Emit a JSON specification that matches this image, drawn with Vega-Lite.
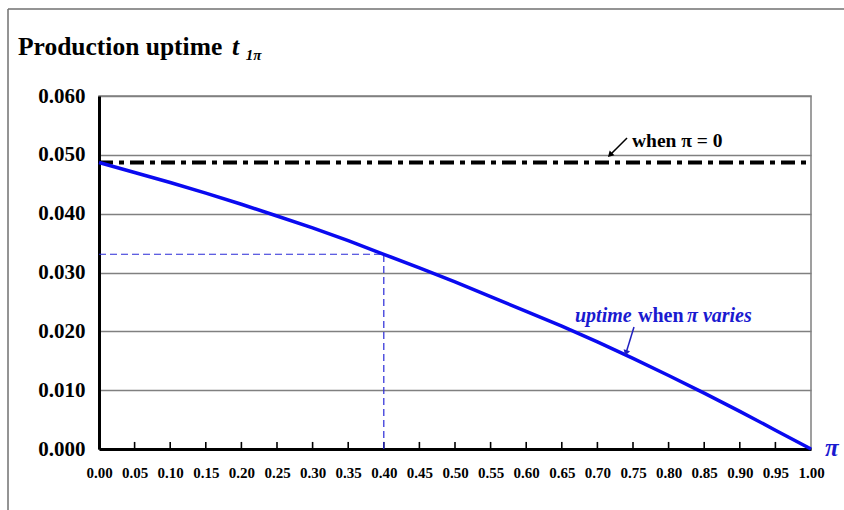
{
  "$schema": "https://vega.github.io/schema/vega-lite/v6.json",
  "width": 712,
  "height": 353,
  "autosize": "none",
  "padding": {"left": 99, "top": 96, "right": 33, "bottom": 61},
  "background": "white",
  "config": {
    "font": "'Liberation Serif', 'Times New Roman', Times, serif",
    "view": {"stroke": "#808080", "strokeWidth": 1.5},
    "axis": {"labelFont": "'Liberation Serif', 'Times New Roman', Times, serif", "labelFontWeight": "bold", "labelColor": "black", "title": null},
    "text": {"font": "'Liberation Serif', 'Times New Roman', Times, serif"}
  },
  "datasets": {
    "curve": [
      {"x": 0.00, "y": 0.0487}, {"x": 0.05, "y": 0.0470}, {"x": 0.10, "y": 0.0453},
      {"x": 0.15, "y": 0.0435}, {"x": 0.20, "y": 0.0416}, {"x": 0.25, "y": 0.0396},
      {"x": 0.30, "y": 0.0376}, {"x": 0.35, "y": 0.0354}, {"x": 0.40, "y": 0.0331},
      {"x": 0.45, "y": 0.0308}, {"x": 0.50, "y": 0.0284}, {"x": 0.55, "y": 0.0259},
      {"x": 0.60, "y": 0.0234}, {"x": 0.65, "y": 0.0209}, {"x": 0.70, "y": 0.0182},
      {"x": 0.75, "y": 0.0154}, {"x": 0.80, "y": 0.0125}, {"x": 0.85, "y": 0.0095},
      {"x": 0.90, "y": 0.0064}, {"x": 0.95, "y": 0.0032}, {"x": 1.00, "y": 0.0000}
    ],
    "ticks": [
      {"x": 0.05, "y": 0, "y2": 0.0012}, {"x": 0.10, "y": 0, "y2": 0.0012}, {"x": 0.15, "y": 0, "y2": 0.0012},
      {"x": 0.20, "y": 0, "y2": 0.0012}, {"x": 0.25, "y": 0, "y2": 0.0012}, {"x": 0.30, "y": 0, "y2": 0.0012},
      {"x": 0.35, "y": 0, "y2": 0.0012}, {"x": 0.40, "y": 0, "y2": 0.0012}, {"x": 0.45, "y": 0, "y2": 0.0012},
      {"x": 0.50, "y": 0, "y2": 0.0012}, {"x": 0.55, "y": 0, "y2": 0.0012}, {"x": 0.60, "y": 0, "y2": 0.0012},
      {"x": 0.65, "y": 0, "y2": 0.0012}, {"x": 0.70, "y": 0, "y2": 0.0012}, {"x": 0.75, "y": 0, "y2": 0.0012},
      {"x": 0.80, "y": 0, "y2": 0.0012}, {"x": 0.85, "y": 0, "y2": 0.0012}, {"x": 0.90, "y": 0, "y2": 0.0012},
      {"x": 0.95, "y": 0, "y2": 0.0012}
    ],
    "flat": [{"x": 0, "x2": 1, "y": 0.0487}],
    "refs": [
      {"x": 0, "x2": 0.4, "y": 0.0331, "y2": 0.0331},
      {"x": 0.4, "x2": 0.4, "y": 0, "y2": 0.0331}
    ],
    "arrowShafts": [
      {"x": 0.7416, "y": 0.05286, "x2": 0.7177, "y2": 0.04997, "group": "black"},
      {"x": 0.7514, "y": 0.02074, "x2": 0.7402, "y2": 0.01632, "group": "blue"}
    ],
    "arrowHeads": [
      {"x": 0.7177, "y": 0.04997, "angle": 225, "group": "black"},
      {"x": 0.7402, "y": 0.01632, "angle": 197, "group": "blue"}
    ],
    "frame": [
      {"x": -0.1278, "x2": 1.05, "y": 0.0748, "y2": 0.0748},
      {"x": -0.1278, "x2": -0.1278, "y": 0.0748, "y2": -0.0110}
    ],
    "titleMain": [{"x": -0.1138, "y": 0.06697, "text": "Production uptime"}],
    "titleT": [{"x": 0.1868, "y": 0.06697, "text": "t"}],
    "titleSub": [{"x": 0.2060, "y": 0.0662, "text": "1π"}],
    "blackNote": [{"x": 0.7486, "y": 0.05139, "text": "when π = 0"}],
    "blueItalic": [{"x": 0.6685, "y": 0.02164, "text": "uptime"}, {"x": 0.8258, "y": 0.02164, "text": "π varies"}],
    "blueBold": [{"x": 0.757, "y": 0.02164, "text": "when"}],
    "axisPi": [{"x": 1.0197, "y": -0.0012, "text": "π"}]
  },
  "encoding": {
    "x": {"field": "x", "type": "quantitative", "scale": {"domain": [0, 1]},
      "axis": {
        "values": [0, 0.05, 0.1, 0.15, 0.2, 0.25, 0.3, 0.35, 0.4, 0.45, 0.5, 0.55, 0.6, 0.65, 0.7, 0.75, 0.8, 0.85, 0.9, 0.95, 1],
        "format": ".2f", "title": null, "grid": false,
        "labelFontSize": 15, "labelPadding": 16, "labelFlush": false, "labelOverlap": false, "labelSeparation": 0,
        "labelColor": "black",
        "domainColor": "black", "domainWidth": 3,
        "ticks": false
      }
    },
    "y": {"field": "y", "type": "quantitative", "scale": {"domain": [0, 0.06]},
      "axis": {
        "values": [0, 0.01, 0.02, 0.03, 0.04, 0.05, 0.06],
        "format": ".3f", "title": null, "grid": true,
        "gridColor": "#808080", "gridWidth": 1.5,
        "labelFontSize": 21, "labelPadding": 14, "ticks": false,
        "domainColor": "black", "domainWidth": 3
      }
    }
  },
  "layer": [
    {
      "data": {"name": "frame"},
      "mark": {"type": "rule", "color": "#707070", "strokeWidth": 1.5, "clip": false},
      "encoding": {"x2": {"field": "x2"}, "y2": {"field": "y2"}}
    },
    {
      "data": {"name": "ticks"},
      "mark": {"type": "rule", "color": "black", "strokeWidth": 1.6},
      "encoding": {"y2": {"field": "y2"}}
    },
    {
      "data": {"name": "refs"},
      "mark": {"type": "rule", "color": "#2a2ad8", "strokeWidth": 1.2, "strokeDash": [7, 4]},
      "encoding": {"x2": {"field": "x2"}, "y2": {"field": "y2"}}
    },
    {
      "data": {"name": "flat"},
      "mark": {"type": "rule", "color": "black", "strokeWidth": 4, "strokeDash": [14, 6, 5, 6]},
      "encoding": {"x2": {"field": "x2"}}
    },
    {
      "data": {"name": "curve"},
      "mark": {"type": "line", "color": "#0a0af0", "strokeWidth": 3.5},
      "encoding": {}
    },
    {
      "data": {"name": "arrowShafts"},
      "mark": {"type": "rule", "strokeWidth": 1.5},
      "encoding": {
        "x2": {"field": "x2"},
        "y2": {"field": "y2"},
        "color": {"field": "group", "type": "nominal", "scale": {"domain": ["black", "blue"], "range": ["black", "#2020c0"]}, "legend": null}
      }
    },
    {
      "data": {"name": "arrowHeads"},
      "mark": {"type": "point", "shape": "triangle-up", "filled": true, "size": 45, "opacity": 1},
      "encoding": {
        "angle": {"field": "angle", "type": "quantitative", "scale": null},
        "color": {"field": "group", "type": "nominal", "scale": {"domain": ["black", "blue"], "range": ["black", "#2020c0"]}, "legend": null}
      }
    },
    {
      "data": {"name": "titleMain"},
      "mark": {"type": "text", "fontSize": 25.5, "fontWeight": "bold", "align": "left", "baseline": "alphabetic", "color": "black"},
      "encoding": {"text": {"field": "text"}}
    },
    {
      "data": {"name": "titleT"},
      "mark": {"type": "text", "fontSize": 25.5, "fontWeight": "bold", "fontStyle": "italic", "align": "left", "baseline": "alphabetic", "color": "black"},
      "encoding": {"text": {"field": "text"}}
    },
    {
      "data": {"name": "titleSub"},
      "mark": {"type": "text", "fontSize": 15, "fontWeight": "bold", "fontStyle": "italic", "align": "left", "baseline": "alphabetic", "color": "black"},
      "encoding": {"text": {"field": "text"}}
    },
    {
      "data": {"name": "blackNote"},
      "mark": {"type": "text", "fontSize": 19.5, "fontWeight": "bold", "align": "left", "baseline": "alphabetic", "color": "black"},
      "encoding": {"text": {"field": "text"}}
    },
    {
      "data": {"name": "blueItalic"},
      "mark": {"type": "text", "fontSize": 20, "fontWeight": "bold", "fontStyle": "italic", "align": "left", "baseline": "alphabetic", "color": "#1a1ad0"},
      "encoding": {"text": {"field": "text"}}
    },
    {
      "data": {"name": "blueBold"},
      "mark": {"type": "text", "fontSize": 20, "fontWeight": "bold", "align": "left", "baseline": "alphabetic", "color": "#1a1ad0"},
      "encoding": {"text": {"field": "text"}}
    },
    {
      "data": {"name": "axisPi"},
      "mark": {"type": "text", "fontSize": 25, "fontWeight": "bold", "fontStyle": "italic", "align": "left", "baseline": "alphabetic", "color": "#1a1ad0"},
      "encoding": {"text": {"field": "text"}}
    }
  ]
}
